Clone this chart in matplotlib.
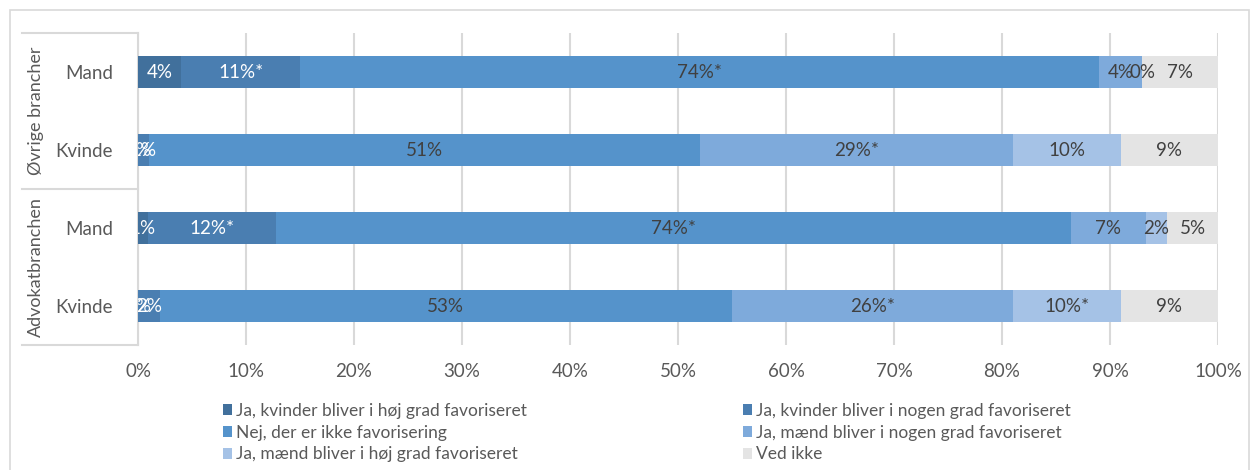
import matplotlib.pyplot as plt
from matplotlib.lines import Line2D
from matplotlib.patches import Rectangle, Patch
import numpy as np

plt.rcParams['font.family'] = ['Lato', 'DejaVu Sans']

# rækker, oppefra og ned
groups = ['Øvrige brancher', 'Advokatbranchen']
rows = ['Mand', 'Kvinde', 'Mand', 'Kvinde']

series = ['Ja, kvinder bliver i høj grad favoriseret',
          'Ja, kvinder bliver i nogen grad favoriseret',
          'Nej, der er ikke favorisering',
          'Ja, mænd bliver i nogen grad favoriseret',
          'Ja, mænd bliver i høj grad favoriseret',
          'Ved ikke']

kvinder_hoej = [4, 0, 0.9, 0]
kvinder_nogen = [11, 1, 11.9, 2]
nej = [74, 51, 73.6, 53]
maend_nogen = [4, 29, 6.9, 26]
maend_hoej = [0, 10, 2.0, 10]
ved_ikke = [7, 9, 4.7, 9]

# signifikant (*)
stars = [[0, 0, 0, 0],
         [1, 0, 1, 0],
         [1, 0, 1, 0],
         [0, 1, 0, 1],
         [0, 0, 0, 1],
         [0, 0, 0, 0]]

colors = ['#41709c', '#4a7eb1', '#5593cb', '#7eaadb', '#a5c2e6', '#e4e4e4']
text_colors = ['white', 'white', '#404040', '#404040', '#404040', '#404040']

values = [kvinder_hoej, kvinder_nogen, nej, maend_nogen, maend_hoej, ved_ikke]

FS = 13.5
fig = plt.figure(figsize=(12.53, 4.70), dpi=100)
W, H = 1253, 470
ax = fig.add_axes([138 / W, 1 - 345 / H, (1218 - 138) / W, (345 - 33) / H])

y = np.arange(len(rows))
left = np.zeros(len(rows))
for i, vals in enumerate(values):
    vals = np.array(vals, dtype=float)
    ax.barh(y, vals, left=left, height=0.4, color=colors[i], zorder=3)
    for j in range(len(rows)):
        txt = f"{vals[j]:.0f}%" + ("*" if stars[i][j] else "")
        ax.text(left[j] + vals[j] / 2, y[j], txt, ha='center', va='center',
                color=text_colors[i], fontsize=FS, zorder=4, clip_on=True)
    left += vals

ax.set_xlim(0, 100)
ax.set_ylim(3.5, -0.5)
ax.set_xticks(np.arange(0, 101, 10))
ax.set_xticklabels([f"{t}%" for t in range(0, 101, 10)], color='#595959', fontsize=FS)
ax.tick_params(axis='x', length=0, pad=13)
ax.set_yticks(y)
ax.set_yticklabels(rows, color='#595959', fontsize=FS)
ax.tick_params(axis='y', length=0, pad=18)
ax.grid(axis='x', color='#d9d9d9', linewidth=1.5, zorder=0)
for s in ['top', 'right', 'bottom']:
    ax.spines[s].set_visible(False)
ax.spines['left'].set_color('#d9d9d9')
ax.spines['left'].set_linewidth(1.5)

# gruppe-etiketter og linjer
for yy in [33, 189, 345]:
    fig.add_artist(Line2D([22 / W, 138 / W], [1 - yy / H, 1 - yy / H],
                          color='#d9d9d9', linewidth=1.5))
for g, yc in zip(groups, [111, 267]):
    fig.text(36 / W, 1 - yc / H, g, rotation=90, ha='center', va='center',
             color='#595959', fontsize=13)

# ydre ramme
fig.add_artist(Rectangle((10 / W, -0.05), (1249 - 10) / W, 1.05 - 10 / H,
                         fill=False, edgecolor='#d9d9d9', linewidth=1.2))

handles = [Patch(facecolor=c, edgecolor='none') for c in colors]
for k, x0 in enumerate([214, 734]):
    idx = [k, k + 2, k + 4]
    fig.legend([handles[i] for i in idx], [series[i] for i in idx],
               loc='upper left', bbox_to_anchor=(x0 / W, 1 - 394 / H),
               frameon=False, fontsize=12.5, handlelength=0.55, handleheight=0.55,
               handletextpad=0.2, labelspacing=0.34, borderpad=0,
               labelcolor='#595959')

fig.savefig('out.png', dpi=100)
